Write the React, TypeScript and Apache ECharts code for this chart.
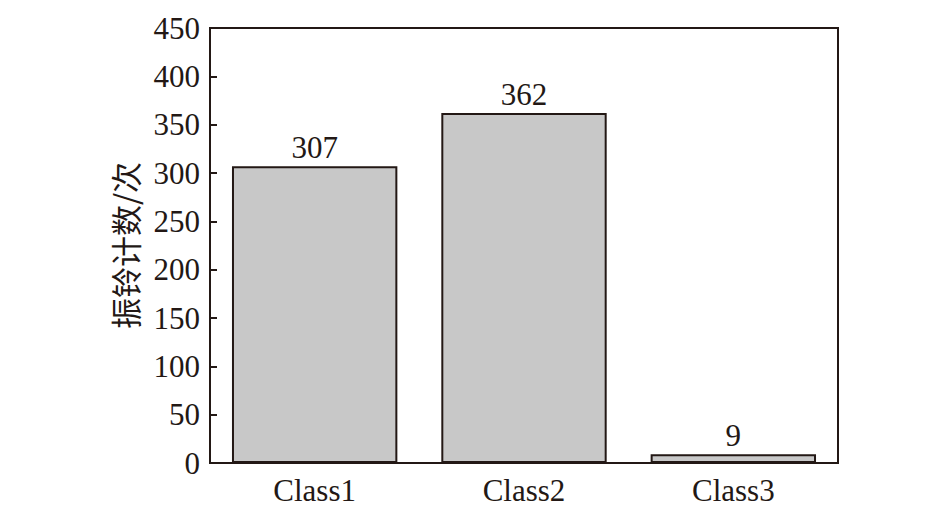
import React, { useEffect, useRef } from "react";
import * as echarts from "echarts";

const categories = ["Class1", "Class2", "Class3"];
const values = [307, 362, 9];
const yTicks = { min: 0, max: 450, interval: 50 };
const yName = "振铃计数/次";

const FONT = "'Liberation Serif', 'Times New Roman', 'Noto Sans CJK SC', serif";
const DARK = "#231815";

export default function App() {
  const ref = useRef<HTMLDivElement>(null);
  useEffect(() => {
    if (!ref.current) return;
    const chart = echarts.init(ref.current, undefined, { renderer: "svg" });
    chart.setOption({
      animation: false,
      backgroundColor: "#ffffff",
      grid: {
        left: 202,
        right: 107,
        top: 20,
        bottom: 50,
        show: true,
        borderColor: DARK,
        borderWidth: 2,
        backgroundColor: "transparent",
      },
      xAxis: {
        type: "category",
        data: categories,
        axisLine: { lineStyle: { color: DARK, width: 2 } },
        axisTick: { show: false },
        axisLabel: { color: DARK, fontFamily: FONT, fontSize: 31, margin: 12 },
      },
      yAxis: {
        type: "value",
        min: yTicks.min,
        max: yTicks.max,
        interval: yTicks.interval,
        name: yName,
        nameLocation: "middle",
        nameGap: 70,
        nameTextStyle: { color: DARK, fontFamily: "'Noto Sans CJK SC', serif", fontSize: 31 },
        axisLine: { show: true, lineStyle: { color: DARK, width: 2 } },
        axisTick: { show: true, inside: true, length: 7, lineStyle: { color: DARK, width: 2 } },
        axisLabel: { color: DARK, fontFamily: FONT, fontSize: 31, margin: 10 },
        splitLine: { show: false },
      },
      series: [
        {
          type: "bar",
          data: values,
          barWidth: "79%",
          itemStyle: { color: "#c8c8c8", borderColor: DARK, borderWidth: 2 },
          label: {
            show: true,
            position: "top",
            distance: 3,
            color: DARK,
            fontFamily: FONT,
            fontSize: 31,
          },
        },
      ],
    });
    return () => chart.dispose();
  }, []);
  return <div ref={ref} style={{ width: 937, height: 505 }} />;
}
